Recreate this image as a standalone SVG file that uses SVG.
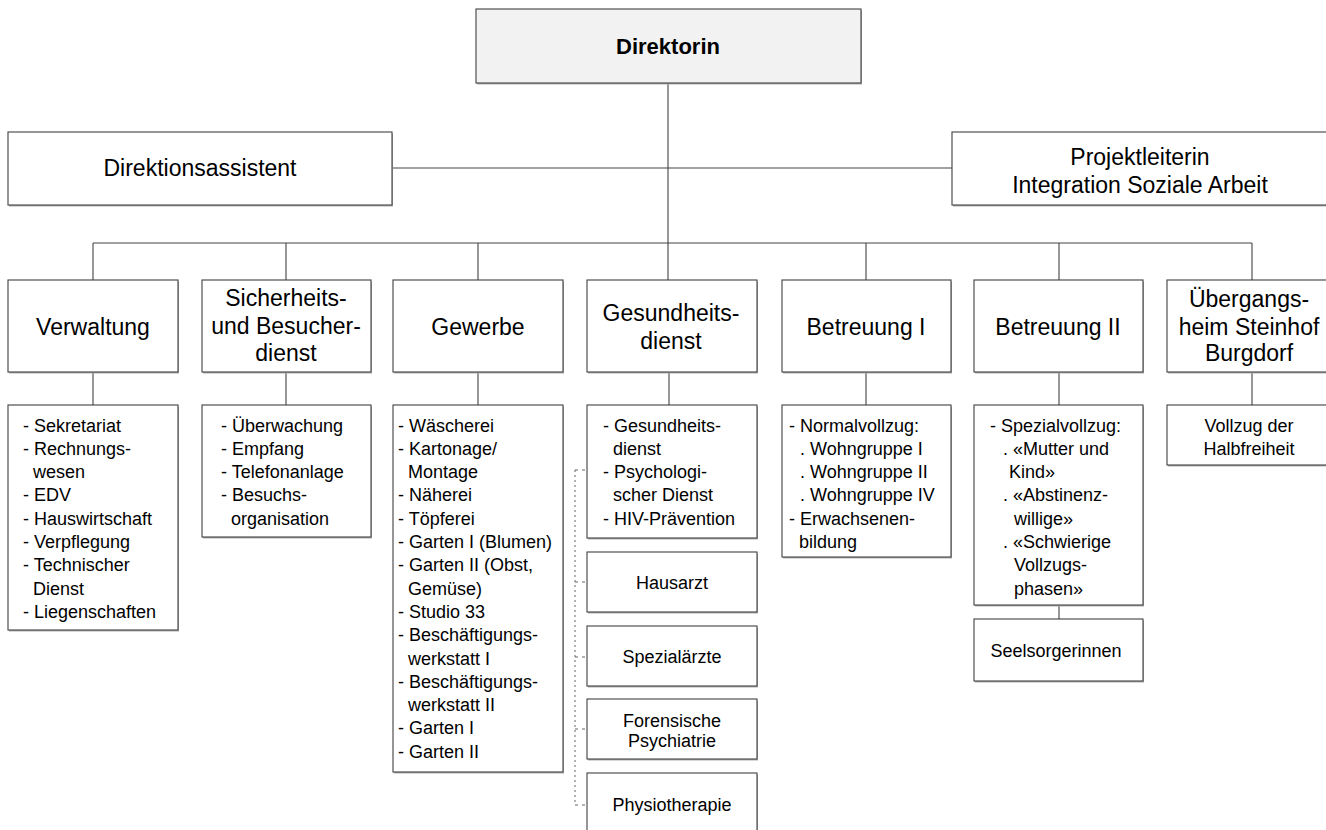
<svg xmlns="http://www.w3.org/2000/svg" width="1326" height="830" viewBox="0 0 1326 830">
<style>
.b{fill:#fff;stroke:#404040;stroke-width:1.1}
.sh{fill:#b0b0b0}
.h{font-family:"Liberation Sans",Arial,sans-serif;font-size:23px;fill:#000;text-anchor:middle}
.t{font-family:"Liberation Sans",Arial,sans-serif;font-size:18px;fill:#000}
.c{text-anchor:middle}
.ln{stroke:#444;stroke-width:1.1;fill:none}
.dot{stroke:#888;stroke-width:1.3;stroke-dasharray:2 3;fill:none}
.dash{stroke:#666;stroke-width:1.2;stroke-dasharray:3 4;fill:none}
</style>
<rect width="1326" height="830" fill="#fff"/>
<g id="connectors">
<path class="ln" d="M668 83V280M392 168H952M93 243H1252M93 243V280M286 243V280M478 243V280M866 243V280M1059 243V280M1252 243V280"/>
<path class="ln" d="M93 372V405M286 372V405M478 372V405M669 372V405M866 372V405M1059 372V405M1252 372V405M1059 605V619"/>
<path class="dot" d="M575 470V804"/>
<path class="dash" d="M575 470H587M575 582H587M575 657H587M575 729H587M575 805H587"/>
</g>
<g id="direktorin">
<rect class="sh" x="477" y="10.5" width="385" height="74"/>
<rect x="476" y="9" width="385" height="74" fill="#f2f2f2" stroke="#404040" stroke-width="1.1"/>
<text class="h" x="668" y="54" font-weight="bold" style="font-size:22px">Direktorin</text>
</g>
<g id="direktionsassistent">
<rect class="sh" x="9" y="133.5" width="384" height="73"/>
<rect class="b" x="8" y="132" width="384" height="73"/>
<text class="h" x="200" y="176">Direktionsassistent</text>
</g>
<g id="projektleiterin">
<rect class="sh" x="953" y="133.5" width="380" height="73"/>
<rect class="b" x="952" y="132" width="380" height="73"/>
<text class="h" x="1140" y="165">Projektleiterin</text>
<text class="h" x="1140" y="193">Integration Soziale Arbeit</text>
</g>
<g id="verwaltung">
<rect class="sh" x="9" y="281.5" width="170" height="92"/>
<rect class="b" x="8" y="280" width="170" height="92"/>
<text class="h" x="93" y="335">Verwaltung</text>
</g>
<g id="verwaltung-liste">
<rect class="sh" x="9" y="406.5" width="170" height="225"/>
<rect class="b" x="8" y="405" width="170" height="225"/>
<text class="t" x="23" y="431.5">- Sekretariat</text>
<text class="t" x="23" y="454.8">- Rechnungs-</text>
<text class="t" x="33" y="478.1">wesen</text>
<text class="t" x="23" y="501.4">- EDV</text>
<text class="t" x="23" y="524.7">- Hauswirtschaft</text>
<text class="t" x="23" y="548">- Verpflegung</text>
<text class="t" x="23" y="571.3">- Technischer</text>
<text class="t" x="33" y="594.6">Dienst</text>
<text class="t" x="23" y="617.9">- Liegenschaften</text>
</g>
<g id="sicherheit">
<rect class="sh" x="203" y="281.5" width="169" height="92"/>
<rect class="b" x="202" y="280" width="169" height="92"/>
<text class="h" x="286" y="306">Sicherheits-</text>
<text class="h" x="286" y="334">und Besucher-</text>
<text class="h" x="286" y="361">dienst</text>
</g>
<g id="sicherheit-liste">
<rect class="sh" x="203" y="406.5" width="169" height="132"/>
<rect class="b" x="202" y="405" width="169" height="132"/>
<text class="t" x="221" y="431.5">- Überwachung</text>
<text class="t" x="221" y="454.8">- Empfang</text>
<text class="t" x="221" y="478.1">- Telefonanlage</text>
<text class="t" x="221" y="501.4">- Besuchs-</text>
<text class="t" x="231" y="524.7">organisation</text>
</g>
<g id="gewerbe">
<rect class="sh" x="394" y="281.5" width="170" height="92"/>
<rect class="b" x="393" y="280" width="170" height="92"/>
<text class="h" x="478" y="335">Gewerbe</text>
</g>
<g id="gewerbe-liste">
<rect class="sh" x="394" y="406.5" width="170" height="367"/>
<rect class="b" x="393" y="405" width="170" height="367"/>
<text class="t" x="398" y="431.5">- Wäscherei</text>
<text class="t" x="398" y="454.8">- Kartonage/</text>
<text class="t" x="408" y="478.1">Montage</text>
<text class="t" x="398" y="501.4">- Näherei</text>
<text class="t" x="398" y="524.7">- Töpferei</text>
<text class="t" x="398" y="548">- Garten I (Blumen)</text>
<text class="t" x="398" y="571.3">- Garten II (Obst,</text>
<text class="t" x="408" y="594.6">Gemüse)</text>
<text class="t" x="398" y="617.9">- Studio 33</text>
<text class="t" x="398" y="641.2">- Beschäftigungs-</text>
<text class="t" x="408" y="664.5">werkstatt I</text>
<text class="t" x="398" y="687.8">- Beschäftigungs-</text>
<text class="t" x="408" y="711.1">werkstatt II</text>
<text class="t" x="398" y="734.4">- Garten I</text>
<text class="t" x="398" y="757.7">- Garten II</text>
</g>
<g id="gesundheit">
<rect class="sh" x="588" y="281.5" width="170" height="92"/>
<rect class="b" x="587" y="280" width="170" height="92"/>
<text class="h" x="671" y="321">Gesundheits-</text>
<text class="h" x="671" y="349">dienst</text>
</g>
<g id="gesundheit-liste">
<rect class="sh" x="588" y="406.5" width="170" height="133"/>
<rect class="b" x="587" y="405" width="170" height="133"/>
<text class="t" x="603" y="431.5">- Gesundheits-</text>
<text class="t" x="613" y="454.8">dienst</text>
<text class="t" x="603" y="478.1">- Psychologi-</text>
<text class="t" x="613" y="501.4">scher Dienst</text>
<text class="t" x="603" y="524.7">- HIV-Prävention</text>
</g>
<g id="hausarzt">
<rect class="sh" x="588" y="553.5" width="170" height="60"/>
<rect class="b" x="587" y="552" width="170" height="60"/>
<text class="t c" x="672" y="588.5">Hausarzt</text>
</g>
<g id="spezialaerzte">
<rect class="sh" x="588" y="627.5" width="170" height="60"/>
<rect class="b" x="587" y="626" width="170" height="60"/>
<text class="t c" x="672" y="662.5">Spezialärzte</text>
</g>
<g id="forensische">
<rect class="sh" x="588" y="700.5" width="170" height="60"/>
<rect class="b" x="587" y="699" width="170" height="60"/>
<text class="t c" x="672" y="726.5">Forensische</text>
<text class="t c" x="672" y="746.5">Psychiatrie</text>
</g>
<g id="physiotherapie">
<rect class="sh" x="588" y="774.5" width="170" height="70"/>
<rect class="b" x="587" y="773" width="170" height="70"/>
<text class="t c" x="672" y="810.5">Physiotherapie</text>
</g>
<g id="betreuung1">
<rect class="sh" x="783" y="281.5" width="169" height="92"/>
<rect class="b" x="782" y="280" width="169" height="92"/>
<text class="h" x="866" y="335">Betreuung I</text>
</g>
<g id="betreuung1-liste">
<rect class="sh" x="783" y="406.5" width="169" height="152"/>
<rect class="b" x="782" y="405" width="169" height="152"/>
<text class="t" x="789" y="431.5">- Normalvollzug:</text>
<text class="t" x="800" y="454.8">. Wohngruppe I</text>
<text class="t" x="800" y="478.1">. Wohngruppe II</text>
<text class="t" x="800" y="501.4">. Wohngruppe IV</text>
<text class="t" x="789" y="524.7">- Erwachsenen-</text>
<text class="t" x="799" y="548">bildung</text>
</g>
<g id="betreuung2">
<rect class="sh" x="975" y="281.5" width="169" height="92"/>
<rect class="b" x="974" y="280" width="169" height="92"/>
<text class="h" x="1058" y="335">Betreuung II</text>
</g>
<g id="betreuung2-liste">
<rect class="sh" x="975" y="406.5" width="169" height="200"/>
<rect class="b" x="974" y="405" width="169" height="200"/>
<text class="t" x="990" y="431.5">- Spezialvollzug:</text>
<text class="t" x="1003" y="454.8">. «Mutter und</text>
<text class="t" x="1009" y="478.1">Kind»</text>
<text class="t" x="1003" y="501.4">. «Abstinenz-</text>
<text class="t" x="1014" y="524.7">willige»</text>
<text class="t" x="1003" y="548">. «Schwierige</text>
<text class="t" x="1014" y="571.3">Vollzugs-</text>
<text class="t" x="1014" y="594.6">phasen»</text>
</g>
<g id="seelsorgerinnen">
<rect class="sh" x="975" y="620.5" width="169" height="62"/>
<rect class="b" x="974" y="619" width="169" height="62"/>
<text class="t c" x="1056" y="657">Seelsorgerinnen</text>
</g>
<g id="uebergangsheim">
<rect class="sh" x="1168" y="281.5" width="170" height="92"/>
<rect class="b" x="1167" y="280" width="170" height="92"/>
<text class="h" x="1249" y="307">Übergangs-</text>
<text class="h" x="1249" y="335">heim Steinhof</text>
<text class="h" x="1249" y="361">Burgdorf</text>
</g>
<g id="uebergangsheim-liste">
<rect class="sh" x="1168" y="406.5" width="170" height="60"/>
<rect class="b" x="1167" y="405" width="170" height="60"/>
<text class="t c" x="1249" y="431.5">Vollzug der</text>
<text class="t c" x="1249" y="454.8">Halbfreiheit</text>
</g>
</svg>
